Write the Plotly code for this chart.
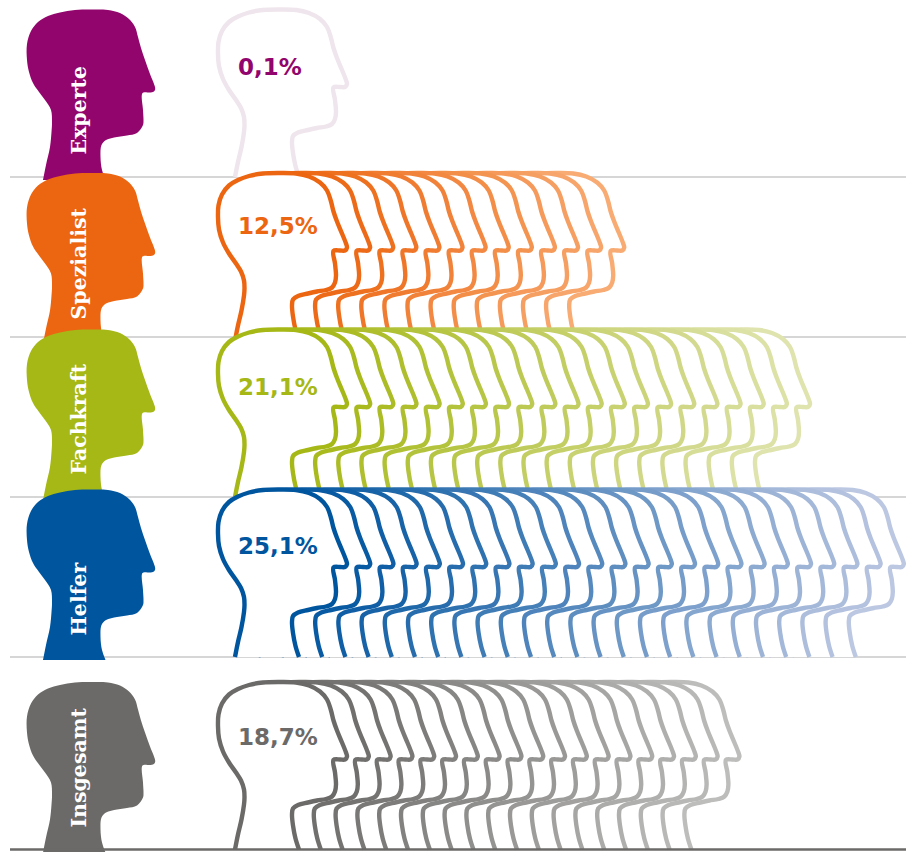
import plotly.graph_objects as go

# Share of each occupational level, in percent
categories = ["Experte", "Spezialist", "Fachkraft", "Helfer", "Insgesamt"]
values = [0.1, 12.5, 21.1, 25.1, 18.7]

base_colors = ["#92056c", "#ec6510", "#a5b816", "#00559f", "#6b6a68"]
fade_colors = ["#efe5ec", "#f8ab72", "#dfe3ad", "#bcc7e2", "#bdbdbc"]

# Vertical placement of each row and spacing of the repeated heads
row_shift = [0, 163.5, 320, 480, 672.5]
head_step = [23.1, 23.1, 23.15, 23.2, 21.8]
label_y = [110, 264, 419, 599, 768]
value_y = [67, 226, 387, 546, 737]
rule_y = [177, 337, 497, 657]

# Head silhouette used for the repeated outlines
outline_x = [235, 238, 241.5, 244, 244.5, 244, 241, 236, 229, 223, 219, 218, 218.5, 222, 229, 238, 249, 263, 280,
             296, 309, 320, 327, 331, 333.5, 337, 342, 346, 347, 345, 340, 333.5, 335, 336, 335, 332, 326, 317, 308,
             298, 293, 292, 293, 295.5, 299]
outline_y = [177, 162, 147, 132, 125, 117, 108, 100, 90, 79, 66, 54, 42, 31, 22, 16.5, 12.5, 10, 9.5,
             10, 13, 19, 27, 38, 48, 58, 70, 80, 84, 87, 87, 87.5, 100, 112, 119, 124, 126.5, 128, 130,
             132.5, 136, 142, 153, 166, 177]

# Slightly taller silhouette used for the solid heads on the left
solid_x = [43, 46, 50, 51.5, 52, 51, 45, 39, 33, 29, 27, 27, 31, 38, 48, 60, 75, 93, 108, 120, 129, 135, 138, 141, 145,
           150, 155, 155, 153, 148, 142.5, 143, 143.5, 143, 137, 127, 117, 106, 101.5, 100.5, 102, 105.5]
solid_y = [180, 165, 147, 132, 122, 110, 100, 92, 83, 72, 60, 44, 31, 22, 16, 12.5, 10, 9.5, 10, 13, 19, 27, 37, 48, 60,
           74, 87, 90, 92, 92.5, 93, 110, 120, 125, 133, 135.5, 137, 140, 145, 157, 170, 180]


def hex_rgb(code):
    return tuple(int(code[i:i + 2], 16) for i in (1, 3, 5))


def blend(start, end, t):
    a, b = hex_rgb(start), hex_rgb(end)
    return "rgb({},{},{})".format(*(round(p + (q - p) * t) for p, q in zip(a, b)))


def percent_text(v):
    return f"{v:.1f}".replace(".", ",") + "%"


fig = go.Figure()

# Horizontal separators sit behind every head
for y in rule_y:
    fig.add_trace(go.Scatter(x=[10, 906], y=[y, y], mode="lines",
                             line=dict(color="#c8c8c8", width=1.3), hoverinfo="skip"))

for row, (name, value) in enumerate(zip(categories, values)):
    shift = row_shift[row]
    count = max(1, int(value + 0.5))

    # Solid head carrying the category name
    fig.add_trace(go.Scatter(
        x=solid_x, y=[y + shift for y in solid_y], mode="lines", fill="toself",
        fillcolor=base_colors[row], line=dict(width=0, shape="spline", smoothing=1), hoverinfo="skip"))

    # One outlined head per percentage point, front head painted last
    for i in reversed(range(count)):
        t = 1.0 if count == 1 else i / (count - 1)
        fig.add_trace(go.Scatter(
            x=[x + i * head_step[row] for x in outline_x],
            y=[y + shift for y in outline_y],
            mode="lines", fill="toself", fillcolor="white",
            line=dict(color=blend(base_colors[row], fade_colors[row], t), width=4.4,
                      shape="spline", smoothing=1),
            hoverinfo="skip"))

    fig.add_annotation(x=78.5, y=label_y[row], text=f"<b>{name}</b>", textangle=-90, showarrow=False,
                       font=dict(family="DejaVu Serif", size=20.5, color="white"))
    fig.add_annotation(x=236, y=value_y[row], text=f"<b>{percent_text(value)}</b>", xanchor="left",
                       showarrow=False, font=dict(family="DejaVu Sans", size=23, color=base_colors[row]))

# Baseline closes the last row
fig.add_trace(go.Scatter(x=[10, 906], y=[849.5, 849.5], mode="lines",
                         line=dict(color="#6b6a68", width=2.5), hoverinfo="skip"))

fig.update_layout(
    width=914, height=852, margin=dict(l=0, r=0, t=0, b=0), showlegend=False,
    plot_bgcolor="white", paper_bgcolor="white",
    xaxis=dict(range=[0, 914], visible=False, fixedrange=True),
    yaxis=dict(range=[852, 0], visible=False, fixedrange=True),
)
fig.write_html("out.html", config=dict(displayModeBar=False))
